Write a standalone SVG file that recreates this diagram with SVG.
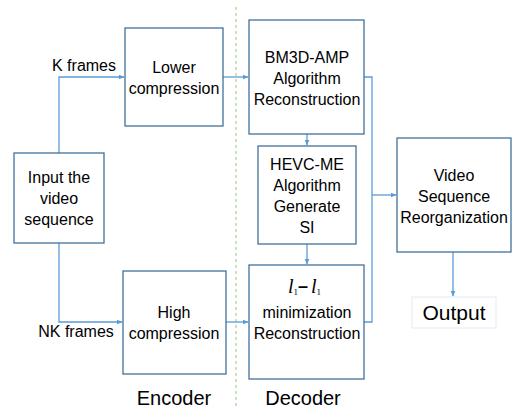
<svg xmlns="http://www.w3.org/2000/svg" width="515" height="409" viewBox="0 0 515 409">
<defs>
<marker id="ah" markerWidth="6" markerHeight="6" refX="5.5" refY="3" orient="auto" markerUnits="userSpaceOnUse">
<path d="M0,0.5 L6,3 L0,5.5 Z" fill="#5B9BD5"/>
</marker>
<style>
.box{fill:#fff;stroke:#41719C;stroke-width:1.3}
.t{font-family:"Liberation Sans",Arial,sans-serif;font-size:16px;fill:#000;text-anchor:middle}
.big{font-size:20px}
.out{font-size:21px}
.c{fill:none;stroke:#5B9BD5;stroke-width:1.3}
.ca{fill:none;stroke:#5B9BD5;stroke-width:1.3;marker-end:url(#ah)}
.m{font-family:"Liberation Serif","Times New Roman",serif;font-style:italic;font-size:20px}
</style>
</defs>
<rect width="515" height="409" fill="#fff"/>
<line x1="236" y1="7" x2="236" y2="409" stroke="#A9D18E" stroke-width="1.2" stroke-dasharray="3,3"/>
<g id="connectors">
<polyline class="ca" points="59,153 59,77 124,77"/>
<polyline class="ca" points="59,243 59,322 122,322"/>
<line class="ca" x1="223" y1="77" x2="248" y2="77"/>
<line class="ca" x1="226" y1="322" x2="248" y2="322"/>
<line class="ca" x1="307" y1="134" x2="307" y2="145"/>
<line class="ca" x1="307" y1="244" x2="307" y2="264"/>
<polyline class="c" points="364,77 372,77 372,322 364,322"/>
<line class="ca" x1="372" y1="195" x2="396" y2="195"/>
<line class="ca" x1="453" y1="252" x2="453" y2="296"/>
</g>
<text class="t" x="84" y="71">K frames</text>
<text class="t" x="76" y="337">NK frames</text>
<g id="input">
<rect class="box" x="14" y="153" width="90" height="90"/>
<text class="t" x="59" y="183">Input the</text>
<text class="t" x="59" y="204">video</text>
<text class="t" x="59" y="225">sequence</text>
</g>
<g id="lower">
<rect class="box" x="125" y="28" width="98" height="98"/>
<text class="t" x="174" y="73">Lower</text>
<text class="t" x="174" y="94">compression</text>
</g>
<g id="high">
<rect class="box" x="123" y="271" width="103" height="103"/>
<text class="t" x="174" y="318">High</text>
<text class="t" x="174" y="339">compression</text>
</g>
<g id="bm3d">
<rect class="box" x="249" y="20" width="115" height="114"/>
<text class="t" x="307" y="63">BM3D-AMP</text>
<text class="t" x="307" y="84">Algorithm</text>
<text class="t" x="307" y="105">Reconstruction</text>
</g>
<g id="hevc">
<rect class="box" x="258" y="146" width="98" height="98"/>
<text class="t" x="307" y="170">HEVC-ME</text>
<text class="t" x="307" y="191">Algorithm</text>
<text class="t" x="307" y="212">Generate</text>
<text class="t" x="307" y="233">SI</text>
</g>
<g id="l1min">
<rect class="box" x="249" y="265" width="115" height="114"/>
<text x="288" y="293" class="m">l<tspan font-size="9" font-style="normal" dy="2">1</tspan></text>
<text x="303" y="292" font-family="Liberation Sans,Arial,sans-serif" font-size="18" font-weight="bold" text-anchor="middle">–</text>
<text x="311" y="293" class="m">l<tspan font-size="9" font-style="normal" dy="2">1</tspan></text>
<text class="t" x="307" y="318">minimization</text>
<text class="t" x="307" y="339">Reconstruction</text>
</g>
<g id="video">
<rect class="box" x="397" y="138" width="114" height="114"/>
<text class="t" x="454" y="181">Video</text>
<text class="t" x="454" y="202">Sequence</text>
<text class="t" x="454" y="223">Reorganization</text>
</g>
<g id="output">
<rect x="412" y="297" width="84" height="31" fill="#fff" stroke="#DEEBF7" stroke-width="1"/>
<text class="t out" x="454" y="320">Output</text>
</g>
<text class="t big" x="174" y="405">Encoder</text>
<text class="t big" x="303" y="405">Decoder</text>
</svg>
